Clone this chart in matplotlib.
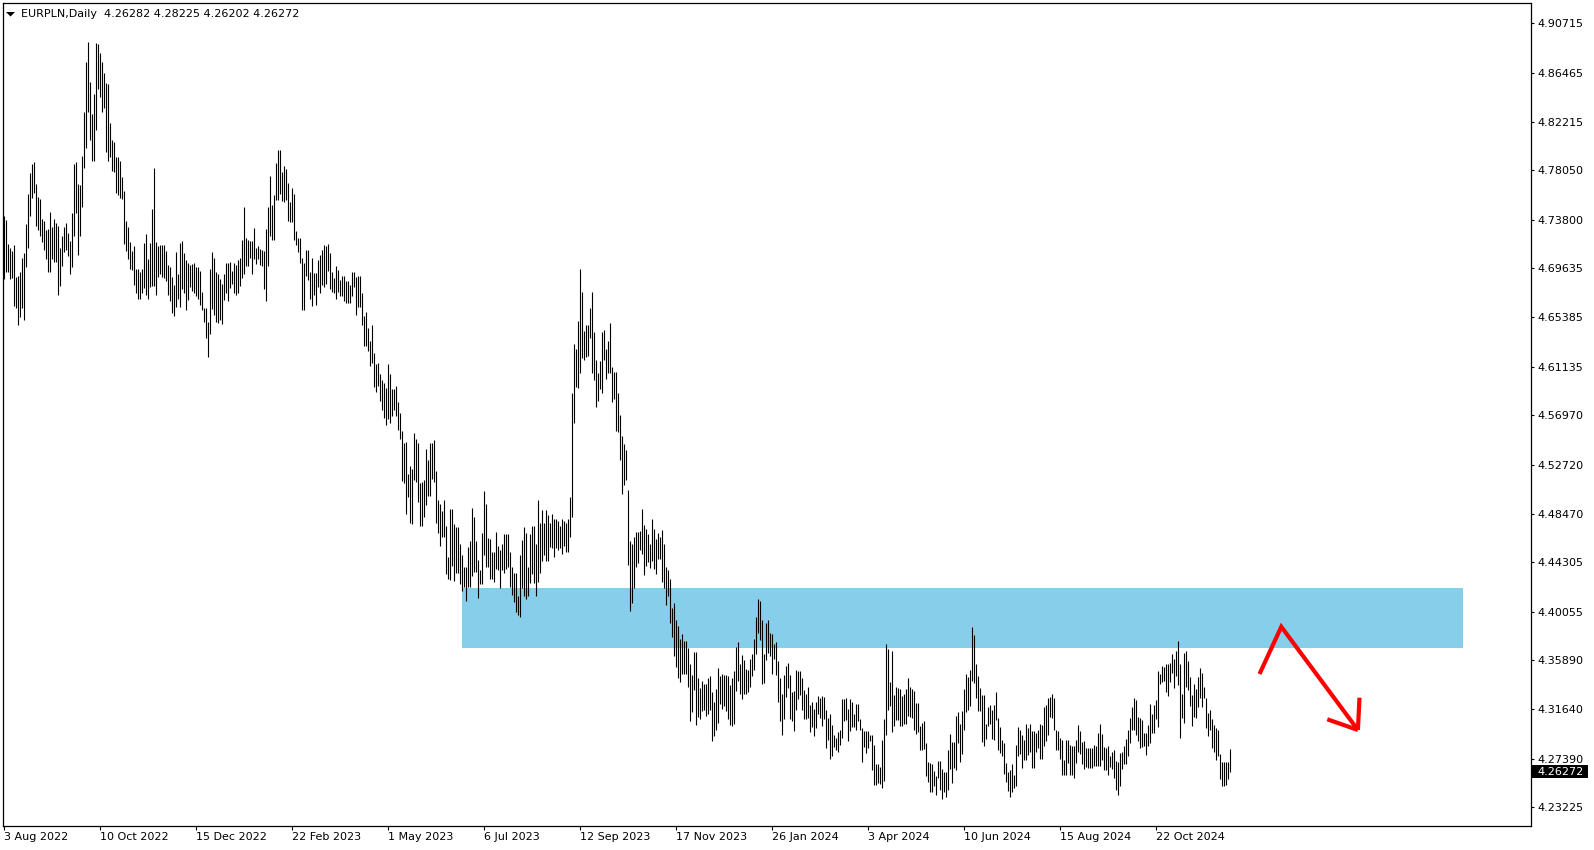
import matplotlib.pyplot as plt
import matplotlib.transforms as mtransforms
from matplotlib.patches import Rectangle, Polygon
import numpy as np

plt.rcParams.update({'font.size': 8, 'font.family': ['DejaVu Sans']})

# EURPLN daily bars, high / low (one value per bar)
highs = [
    4.741, 4.738, 4.717, 4.714, 4.711, 4.716, 4.689, 4.690, 4.693, 4.705,
    4.709, 4.734, 4.760, 4.778, 4.786, 4.788, 4.769, 4.758, 4.756, 4.739,
    4.737, 4.729, 4.730, 4.745, 4.732, 4.739, 4.735, 4.733, 4.714, 4.724,
    4.732, 4.735, 4.727, 4.720, 4.744, 4.786, 4.788, 4.769, 4.768, 4.793,
    4.831, 4.874, 4.891, 4.857, 4.829, 4.846, 4.890, 4.889, 4.882, 4.874,
    4.864, 4.856, 4.855, 4.821, 4.807, 4.805, 4.792, 4.792, 4.789, 4.775,
    4.763, 4.737, 4.732, 4.719, 4.711, 4.715, 4.696, 4.696, 4.693, 4.696,
    4.718, 4.726, 4.704, 4.718, 4.747, 4.783, 4.719, 4.715, 4.716, 4.716,
    4.716, 4.711, 4.699, 4.697, 4.689, 4.682, 4.710, 4.691, 4.718, 4.720,
    4.709, 4.703, 4.701, 4.699, 4.700, 4.701, 4.697, 4.697, 4.694, 4.676,
    4.662, 4.662, 4.650, 4.696, 4.710, 4.705, 4.693, 4.691, 4.687, 4.683,
    4.691, 4.701, 4.701, 4.702, 4.694, 4.701, 4.699, 4.703, 4.705, 4.721,
    4.749, 4.722, 4.721, 4.720, 4.720, 4.731, 4.714, 4.715, 4.713, 4.712,
    4.711, 4.730, 4.749, 4.776, 4.751, 4.759, 4.787, 4.798, 4.798, 4.779,
    4.784, 4.782, 4.770, 4.753, 4.765, 4.760, 4.728, 4.722, 4.722, 4.705,
    4.701, 4.712, 4.712, 4.693, 4.705, 4.692, 4.692, 4.703, 4.708, 4.712,
    4.716, 4.715, 4.717, 4.709, 4.693, 4.688, 4.698, 4.695, 4.686, 4.690,
    4.690, 4.685, 4.685, 4.682, 4.693, 4.693, 4.689, 4.690, 4.690, 4.675,
    4.655, 4.659, 4.645, 4.634, 4.647, 4.623, 4.614, 4.615, 4.605, 4.600,
    4.597, 4.593, 4.614, 4.605, 4.592, 4.592, 4.595, 4.581, 4.572, 4.556,
    4.546, 4.547, 4.519, 4.526, 4.523, 4.554, 4.549, 4.546, 4.511, 4.512,
    4.514, 4.541, 4.531, 4.546, 4.546, 4.548, 4.522, 4.497, 4.493, 4.487,
    4.497, 4.474, 4.448, 4.489, 4.489, 4.476, 4.473, 4.473, 4.459, 4.449,
    4.439, 4.439, 4.456, 4.461, 4.490, 4.482, 4.461, 4.445, 4.436, 4.468,
    4.504, 4.493, 4.464, 4.463, 4.452, 4.452, 4.469, 4.457, 4.454, 4.459,
    4.467, 4.467, 4.467, 4.452, 4.439, 4.434, 4.434, 4.414, 4.449, 4.462,
    4.473, 4.468, 4.439, 4.467, 4.474, 4.474, 4.459, 4.497, 4.477, 4.488,
    4.477, 4.488, 4.484, 4.477, 4.485, 4.480, 4.480, 4.479, 4.474, 4.480,
    4.479, 4.477, 4.480, 4.499, 4.589, 4.631, 4.627, 4.651, 4.696, 4.676,
    4.642, 4.647, 4.647, 4.662, 4.676, 4.641, 4.617, 4.606, 4.616, 4.641,
    4.643, 4.627, 4.634, 4.649, 4.611, 4.607, 4.607, 4.589, 4.570, 4.552,
    4.545, 4.540, 4.505, 4.461, 4.459, 4.465, 4.469, 4.469, 4.470, 4.489,
    4.475, 4.472, 4.467, 4.459, 4.480, 4.472, 4.463, 4.468, 4.465, 4.471,
    4.459, 4.439, 4.436, 4.429, 4.404, 4.408, 4.393, 4.388, 4.377, 4.381,
    4.375, 4.375, 4.369, 4.355, 4.346, 4.366, 4.366, 4.343, 4.335, 4.341,
    4.338, 4.338, 4.343, 4.345, 4.331, 4.323, 4.334, 4.352, 4.345, 4.347,
    4.346, 4.346, 4.345, 4.337, 4.343, 4.349, 4.370, 4.374, 4.355, 4.363,
    4.359, 4.351, 4.350, 4.360, 4.364, 4.377, 4.396, 4.411, 4.410, 4.393,
    4.364, 4.391, 4.393, 4.382, 4.381, 4.373, 4.374, 4.358, 4.343, 4.330,
    4.346, 4.354, 4.356, 4.346, 4.331, 4.332, 4.350, 4.349, 4.349, 4.343,
    4.333, 4.330, 4.336, 4.320, 4.323, 4.317, 4.323, 4.328, 4.326, 4.328,
    4.327, 4.316, 4.309, 4.312, 4.303, 4.294, 4.292, 4.297, 4.299, 4.325,
    4.325, 4.326, 4.317, 4.325, 4.323, 4.312, 4.321, 4.321, 4.308, 4.300,
    4.298, 4.298, 4.298, 4.294, 4.294, 4.286, 4.269, 4.269, 4.267, 4.290,
    4.308, 4.373, 4.368, 4.340, 4.367, 4.329, 4.336, 4.335, 4.334, 4.328,
    4.330, 4.334, 4.343, 4.336, 4.334, 4.332, 4.322, 4.322, 4.302, 4.305,
    4.306, 4.287, 4.271, 4.270, 4.269, 4.263, 4.259, 4.272, 4.272, 4.265,
    4.262, 4.262, 4.281, 4.295, 4.288, 4.288, 4.311, 4.314, 4.304, 4.315,
    4.334, 4.347, 4.344, 4.350, 4.387, 4.380, 4.355, 4.345, 4.335, 4.329,
    4.329, 4.304, 4.318, 4.320, 4.316, 4.320, 4.331, 4.309, 4.301, 4.290,
    4.287, 4.270, 4.262, 4.264, 4.269, 4.260, 4.286, 4.301, 4.299, 4.294,
    4.290, 4.304, 4.300, 4.304, 4.298, 4.298, 4.296, 4.299, 4.304, 4.303,
    4.318, 4.320, 4.326, 4.327, 4.330, 4.326, 4.299, 4.298, 4.292, 4.290,
    4.273, 4.290, 4.290, 4.286, 4.285, 4.285, 4.290, 4.303, 4.298, 4.288,
    4.289, 4.283, 4.283, 4.283, 4.283, 4.286, 4.285, 4.296, 4.304, 4.295,
    4.284, 4.283, 4.285, 4.276, 4.280, 4.281, 4.272, 4.271, 4.279, 4.280,
    4.285, 4.291, 4.299, 4.309, 4.318, 4.326, 4.324, 4.310, 4.309, 4.307,
    4.296, 4.296, 4.303, 4.321, 4.312, 4.320, 4.324, 4.349, 4.347, 4.354,
    4.353, 4.355, 4.355, 4.356, 4.364, 4.360, 4.367, 4.375, 4.355, 4.330,
    4.365, 4.367, 4.358, 4.344, 4.329, 4.338, 4.334, 4.344, 4.352, 4.348,
    4.336, 4.326, 4.313, 4.316, 4.308, 4.303, 4.300, 4.299, 4.278, 4.271,
    4.271, 4.271, 4.271, 4.28225,
]
lows = [
    4.687, 4.693, 4.693, 4.687, 4.688, 4.664, 4.662, 4.647, 4.654, 4.662,
    4.652, 4.697, 4.714, 4.741, 4.757, 4.761, 4.733, 4.729, 4.724, 4.719,
    4.712, 4.704, 4.693, 4.693, 4.704, 4.702, 4.702, 4.673, 4.681, 4.698,
    4.710, 4.712, 4.707, 4.691, 4.697, 4.724, 4.744, 4.708, 4.724, 4.749,
    4.783, 4.800, 4.831, 4.807, 4.789, 4.789, 4.815, 4.851, 4.844, 4.831,
    4.834, 4.796, 4.789, 4.792, 4.780, 4.779, 4.761, 4.759, 4.757, 4.756,
    4.717, 4.711, 4.704, 4.696, 4.695, 4.682, 4.675, 4.670, 4.670, 4.675,
    4.679, 4.673, 4.670, 4.680, 4.681, 4.681, 4.673, 4.689, 4.691, 4.689,
    4.688, 4.685, 4.673, 4.668, 4.658, 4.655, 4.663, 4.670, 4.663, 4.678,
    4.675, 4.660, 4.669, 4.680, 4.677, 4.675, 4.672, 4.670, 4.665, 4.660,
    4.650, 4.636, 4.620, 4.640, 4.661, 4.656, 4.650, 4.649, 4.652, 4.648,
    4.669, 4.675, 4.668, 4.679, 4.683, 4.675, 4.673, 4.675, 4.681, 4.688,
    4.691, 4.698, 4.698, 4.705, 4.691, 4.704, 4.700, 4.704, 4.699, 4.698,
    4.678, 4.668, 4.698, 4.724, 4.721, 4.721, 4.755, 4.755, 4.760, 4.754,
    4.753, 4.755, 4.737, 4.736, 4.736, 4.721, 4.716, 4.710, 4.701, 4.660,
    4.660, 4.690, 4.686, 4.670, 4.664, 4.673, 4.665, 4.680, 4.675, 4.682,
    4.680, 4.683, 4.694, 4.678, 4.676, 4.675, 4.670, 4.676, 4.672, 4.672,
    4.668, 4.666, 4.666, 4.666, 4.672, 4.680, 4.656, 4.663, 4.663, 4.647,
    4.629, 4.629, 4.625, 4.612, 4.615, 4.594, 4.590, 4.595, 4.582, 4.574,
    4.567, 4.561, 4.566, 4.563, 4.569, 4.574, 4.569, 4.557, 4.549, 4.513,
    4.511, 4.485, 4.499, 4.477, 4.476, 4.514, 4.512, 4.495, 4.474, 4.474,
    4.482, 4.492, 4.500, 4.500, 4.515, 4.512, 4.477, 4.468, 4.457, 4.465,
    4.465, 4.433, 4.429, 4.428, 4.440, 4.427, 4.434, 4.434, 4.424, 4.418,
    4.422, 4.410, 4.422, 4.422, 4.431, 4.435, 4.435, 4.412, 4.424, 4.424,
    4.449, 4.439, 4.439, 4.429, 4.429, 4.426, 4.437, 4.436, 4.421, 4.436,
    4.434, 4.437, 4.439, 4.422, 4.415, 4.409, 4.400, 4.398, 4.396, 4.421,
    4.414, 4.411, 4.414, 4.425, 4.433, 4.425, 4.414, 4.426, 4.434, 4.444,
    4.449, 4.444, 4.444, 4.456, 4.455, 4.448, 4.455, 4.454, 4.455, 4.450,
    4.457, 4.452, 4.452, 4.465, 4.482, 4.563, 4.594, 4.593, 4.606, 4.619,
    4.617, 4.620, 4.621, 4.636, 4.606, 4.600, 4.577, 4.582, 4.592, 4.589,
    4.617, 4.601, 4.606, 4.606, 4.581, 4.584, 4.556, 4.555, 4.531, 4.502,
    4.510, 4.514, 4.441, 4.401, 4.408, 4.421, 4.439, 4.442, 4.454, 4.450,
    4.432, 4.440, 4.443, 4.438, 4.444, 4.437, 4.433, 4.446, 4.446, 4.426,
    4.421, 4.406, 4.414, 4.391, 4.379, 4.362, 4.353, 4.343, 4.340, 4.347,
    4.347, 4.347, 4.336, 4.306, 4.314, 4.333, 4.303, 4.310, 4.308, 4.315,
    4.316, 4.311, 4.312, 4.316, 4.289, 4.293, 4.299, 4.305, 4.321, 4.317,
    4.319, 4.315, 4.308, 4.303, 4.302, 4.304, 4.332, 4.341, 4.330, 4.325,
    4.330, 4.330, 4.331, 4.336, 4.345, 4.350, 4.364, 4.382, 4.376, 4.338,
    4.339, 4.359, 4.365, 4.362, 4.347, 4.360, 4.346, 4.323, 4.306, 4.294,
    4.308, 4.327, 4.335, 4.308, 4.306, 4.298, 4.316, 4.325, 4.329, 4.316,
    4.308, 4.308, 4.309, 4.297, 4.301, 4.293, 4.300, 4.312, 4.309, 4.302,
    4.308, 4.283, 4.290, 4.274, 4.276, 4.284, 4.281, 4.280, 4.286, 4.292,
    4.306, 4.307, 4.289, 4.298, 4.301, 4.301, 4.299, 4.306, 4.299, 4.271,
    4.284, 4.279, 4.283, 4.289, 4.264, 4.251, 4.251, 4.253, 4.252, 4.249,
    4.255, 4.294, 4.316, 4.319, 4.297, 4.302, 4.307, 4.307, 4.302, 4.302,
    4.304, 4.304, 4.311, 4.310, 4.309, 4.299, 4.295, 4.297, 4.281, 4.281,
    4.282, 4.259, 4.254, 4.245, 4.245, 4.250, 4.243, 4.257, 4.247, 4.239,
    4.245, 4.241, 4.247, 4.265, 4.253, 4.266, 4.264, 4.287, 4.271, 4.278,
    4.299, 4.314, 4.316, 4.319, 4.341, 4.339, 4.326, 4.315, 4.315, 4.288,
    4.285, 4.291, 4.302, 4.304, 4.291, 4.290, 4.307, 4.281, 4.279, 4.276,
    4.261, 4.254, 4.246, 4.241, 4.245, 4.249, 4.250, 4.276, 4.278, 4.266,
    4.273, 4.273, 4.277, 4.280, 4.266, 4.266, 4.280, 4.283, 4.274, 4.274,
    4.285, 4.289, 4.294, 4.310, 4.309, 4.299, 4.281, 4.281, 4.274, 4.260,
    4.260, 4.260, 4.270, 4.260, 4.260, 4.257, 4.270, 4.280, 4.278, 4.269,
    4.265, 4.267, 4.266, 4.266, 4.266, 4.268, 4.268, 4.268, 4.268, 4.273,
    4.264, 4.264, 4.260, 4.267, 4.265, 4.257, 4.247, 4.243, 4.250, 4.265,
    4.269, 4.269, 4.276, 4.287, 4.299, 4.299, 4.294, 4.289, 4.283, 4.284,
    4.285, 4.277, 4.285, 4.287, 4.296, 4.296, 4.308, 4.301, 4.338, 4.340,
    4.341, 4.331, 4.328, 4.340, 4.348, 4.335, 4.345, 4.337, 4.292, 4.309,
    4.305, 4.336, 4.333, 4.319, 4.302, 4.310, 4.309, 4.318, 4.326, 4.318,
    4.326, 4.300, 4.293, 4.299, 4.283, 4.280, 4.273, 4.276, 4.256, 4.250,
    4.250, 4.251, 4.256, 4.26202,
]

date_bars = [0, 48, 96, 144, 192, 240, 288, 336, 384, 432, 480, 528, 576]
date_labels = ["3 Aug 2022", "10 Oct 2022", "15 Dec 2022", "22 Feb 2023",
               "1 May 2023", "6 Jul 2023", "12 Sep 2023", "17 Nov 2023",
               "26 Jan 2024", "3 Apr 2024", "10 Jun 2024", "15 Aug 2024",
               "22 Oct 2024"]
price_ticks = [4.90715, 4.86465, 4.82215, 4.78050, 4.73800, 4.69635, 4.65385,
               4.61135, 4.56970, 4.52720, 4.48470, 4.44305, 4.40055, 4.35890,
               4.31640, 4.27390, 4.23225]
last_ohlc = [4.26282, 4.28225, 4.26202, 4.26272]

# drawn objects on the chart (bar index / price)
zone_bars = [229, 729.5]
zone_prices = [4.3688, 4.4209]
arrow_bars = [628, 638.9, 677.2]
arrow_prices = [4.3468, 4.3875, 4.2986]
head_left = ([661.9, 677.2], [4.3078, 4.2986])
head_up = ([678.0, 677.2], [4.3264, 4.2986])

W, H = 1594, 850
fig = plt.figure(figsize=(W / 100, H / 100), dpi=100)
ax = fig.add_axes([2.5 / W, 24 / H, 1528 / W, 823 / H])

x = np.arange(len(highs))
ax.vlines(x, lows, highs, color='black', lw=0.8, zorder=3)

ax.fill_between(zone_bars, zone_prices[0], zone_prices[1],
                color='#87CEEB', lw=0, zorder=1)

ax.plot(arrow_bars, arrow_prices, color='red', lw=3, zorder=4,
        solid_joinstyle='miter', solid_capstyle='butt')
ax.plot(*head_left, color='red', lw=3, zorder=4, solid_capstyle='butt')
ax.plot(*head_up, color='red', lw=3, zorder=4, solid_capstyle='butt')

ax.set_xlim(-0.5, 763.5)
ax.set_ylim(4.2159, 4.9247)

ax.yaxis.tick_right()
ax.set_yticks(price_ticks)
ax.set_yticklabels([f"{v:.5f}" for v in price_ticks])
ax.set_xticks(date_bars)
ax.set_xticklabels(date_labels, ha='left')
ax.tick_params(axis='y', length=2.5, pad=2.5, width=0.8, labelsize=8)
ax.tick_params(axis='x', length=3, pad=1.5, width=0.8, labelsize=8)
for s in ax.spines.values():
    s.set_linewidth(0.9)

# current price box on the price scale
trans = mtransforms.blended_transform_factory(ax.transAxes, ax.transData)
px = (4.9247 - 4.2159) / 823
ax.add_patch(Rectangle((1.0006, last_ohlc[3] - 6.8 * px), 57 / 1528, 13.6 * px,
                       transform=trans, facecolor='black', edgecolor='none',
                       clip_on=False, zorder=5))
ax.text(1537 / 1528 - 2.5 / 1528, last_ohlc[3], f"{last_ohlc[3]:.5f}",
        transform=trans, color='white', va='center', ha='left',
        fontsize=8, zorder=6, clip_on=False)

# header
fig.patches.append(Polygon([(6 / W, 1 - 12 / H), (15 / W, 1 - 12 / H),
                            (10.5 / W, 1 - 16.5 / H)], closed=True,
                           transform=fig.transFigure, facecolor='black',
                           edgecolor='none'))
fig.text(21 / W, 1 - 17 / H,
         "EURPLN,Daily  " + " ".join(f"{v:.5f}" for v in last_ohlc),
         va='baseline', ha='left', fontsize=8)

fig.savefig('out.png', dpi=100)
